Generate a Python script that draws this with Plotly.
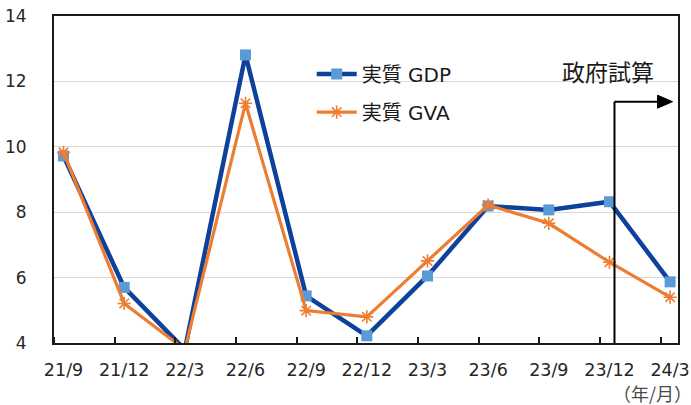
import plotly.graph_objects as go

categories = ["21/9", "21/12", "22/3", "22/6", "22/9", "22/12", "23/3", "23/6", "23/9", "23/12", "24/3"]
gdp = [9.72, 5.70, 3.8, 12.81, 5.44, 4.22, 6.05, 8.19, 8.07, 8.32, 5.87]
gva = [9.83, 5.21, 3.8, 11.33, 4.99, 4.80, 6.51, 8.22, 7.66, 6.47, 5.40]
y_ticks = [4, 6, 8, 10, 12, 14]

xpos = list(range(len(categories)))
off = 0.157
FONT = "DejaVu Sans, Noto Sans CJK JP"

fig = go.Figure()
fig.add_trace(go.Scatter(
    x=xpos, y=gdp, name="実質 GDP", mode="lines+markers", legendgroup="a",
    line=dict(color="#0E419B", width=4.5),
    marker=dict(symbol="square", size=11, color="#5B9BD5", line=dict(width=0)),
))
fig.add_trace(go.Scatter(
    x=xpos, y=gva, name="実質 GVA", mode="lines+markers", legendgroup="b",
    line=dict(color="#ED7D31", width=3.2),
    marker=dict(symbol="asterisk-open", size=11, color="#ED7D31", line=dict(width=1.6, color="#ED7D31")),
))

fig.update_layout(
    width=691, height=405, autosize=False,
    margin=dict(l=54, r=13, t=16, b=62, autoexpand=False),
    paper_bgcolor="white", plot_bgcolor="white",
    font=dict(family=FONT, size=17, color="#262626"),
    showlegend=True,
    legend=dict(x=0.413, y=0.882, xanchor="left", yanchor="top",
                bgcolor="rgba(0,0,0,0)", font=dict(size=20, color="#1a1a1a"),
                traceorder="grouped", tracegroupgap=9, itemwidth=40),
    xaxis=dict(
        range=[-off, 10.13], tickmode="array", tickvals=xpos, ticktext=categories,
        ticks="", showgrid=False, zeroline=False, automargin=False,
        showline=True, linecolor="#1a1a1a", linewidth=2, mirror=True,
        ticklabelstandoff=10, tickfont=dict(size=17.5),
        minor=dict(tickmode="array", tickvals=[k - off for k in range(11)],
                   ticks="inside", ticklen=6, tickwidth=1.5, tickcolor="#1a1a1a", showgrid=False),
    ),
    yaxis=dict(
        range=[4, 14], tickmode="array", tickvals=y_ticks, automargin=False,
        showgrid=True, gridcolor="#D9D9D9", gridwidth=1.3, zeroline=False,
        showline=True, linecolor="#1a1a1a", linewidth=2, mirror=True,
        ticks="", ticklabelstandoff=22,
    ),
)

# government estimate marker: vertical line + arrow
vx = 9.083
vy = 11.38
fig.add_shape(type="line", xref="x", yref="y", x0=vx, x1=vx, y0=4, y1=vy,
              line=dict(color="black", width=2), layer="above")
fig.add_shape(type="line", xref="x", yref="y", x0=vx, x1=9.82, y0=vy, y1=vy,
              line=dict(color="black", width=2), layer="above")
fig.add_shape(type="path", xref="x", yref="y", xsizemode="pixel", ysizemode="pixel",
              xanchor=10.04, yanchor=vy, path="M 0 0 L -15 6.5 L -15 -6.5 Z",
              fillcolor="black", line=dict(color="black", width=1), layer="above")

fig.add_annotation(text="政府試算", xref="paper", yref="paper", x=(608 - 54) / 624, y=(343 - 71) / 327,
                   showarrow=False, xanchor="center", yanchor="middle",
                   font=dict(family="Noto Sans CJK JP", size=23, color="#1a1a1a"))
fig.add_annotation(text="（年/月）", xref="paper", yref="paper", x=1.0, y=(343 - 393) / 327,
                   showarrow=False, xanchor="right", yanchor="middle", xshift=16,
                   font=dict(family="Noto Sans CJK JP", size=18, color="#4a4a4a"))

fig.write_html("out.html", config={"displayModeBar": False},
               post_script="document.body.style.margin='0';document.body.style.overflow='hidden';")
